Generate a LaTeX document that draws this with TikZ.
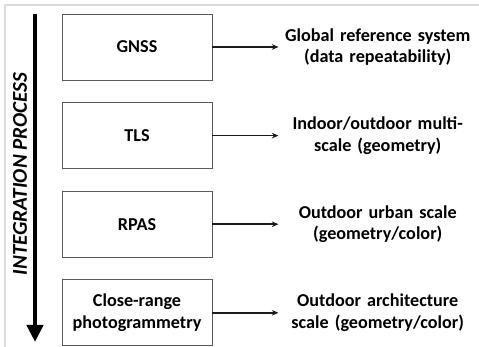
\documentclass[tikz,border=0pt]{standalone}
\usepackage{fontspec}
\setmainfont{Carlito}
\usepackage{xcolor}
\usepackage{tikz}
\usetikzlibrary{positioning,arrows.meta}
\definecolor{boxDraw}{HTML}{595959}
\definecolor{arrowCol}{HTML}{1A1A1A}
\definecolor{frameCol}{HTML}{DCDCDC}

\begin{document}
\begin{tikzpicture}[
  x=0.03cm, y=-0.03cm,
  font=\fontsize{15.5}{18.5}\selectfont\bfseries,
  box/.style={draw=boxDraw, line width=0.8pt, fill=white,
              align=center, minimum width=4.5cm, minimum height=1.98cm, inner sep=2pt},
  lbl/.style={align=center, text width=6.6cm, inner sep=0pt},
  flow/.style={-{Stealth[length=2mm,width=1.7mm]}, line width=1.4pt, draw=arrowCol, shorten >=-0.33cm},
  proc/.style={-{Triangle[length=0.51cm,width=0.48cm]}, line width=0.13cm, draw=black},
]
\useasboundingbox (0,0) rectangle (479,347);

% ---- Marco ----
\draw[frameCol, line width=1.2pt] (5,347) -- (5,5) -- (479,5);

% ---- Columna de cajas ----
\node[box]                         (gnss)  at (137,47) {GNSS};
\node[box, below=0.65cm of gnss]   (tls)            {TLS};
\node[box, below=0.65cm of tls]    (rpas)           {RPAS};
\node[box, below=0.65cm of rpas]   (crp)            {Close-range\\photogrammetry};

% ---- Etiquetas a la derecha ----
\node[lbl, right=1.65cm of gnss] (gnssL) {Global reference system\\(data repeatability)};
\node[lbl, right=1.65cm of tls]  (tlsL)  {Indoor/outdoor multi-\\scale (geometry)};
\node[lbl, right=1.65cm of rpas] (rpasL) {Outdoor urban scale\\(geometry/color)};
\node[lbl, right=1.65cm of crp]  (crpL)  {Outdoor architecture\\scale (geometry/color)};

% ---- Flechas horizontales ----
\draw[flow] (gnss) -- (gnssL);
\draw[flow] (tls)  -- (tlsL);
\draw[flow] (rpas) -- (rpasL);
\draw[flow] (crp)  -- (crpL);

% ---- Proceso de integración ----
\coordinate (procTop) at (35,14);
\coordinate (procEnd) at (35,342);
\draw[proc] (procTop) -- (procEnd);
\node[rotate=90, font=\fontsize{18}{20}\selectfont\bfseries\itshape] (procL) at (20,174) {INTEGRATION PROCESS};

\end{tikzpicture}
\end{document}
